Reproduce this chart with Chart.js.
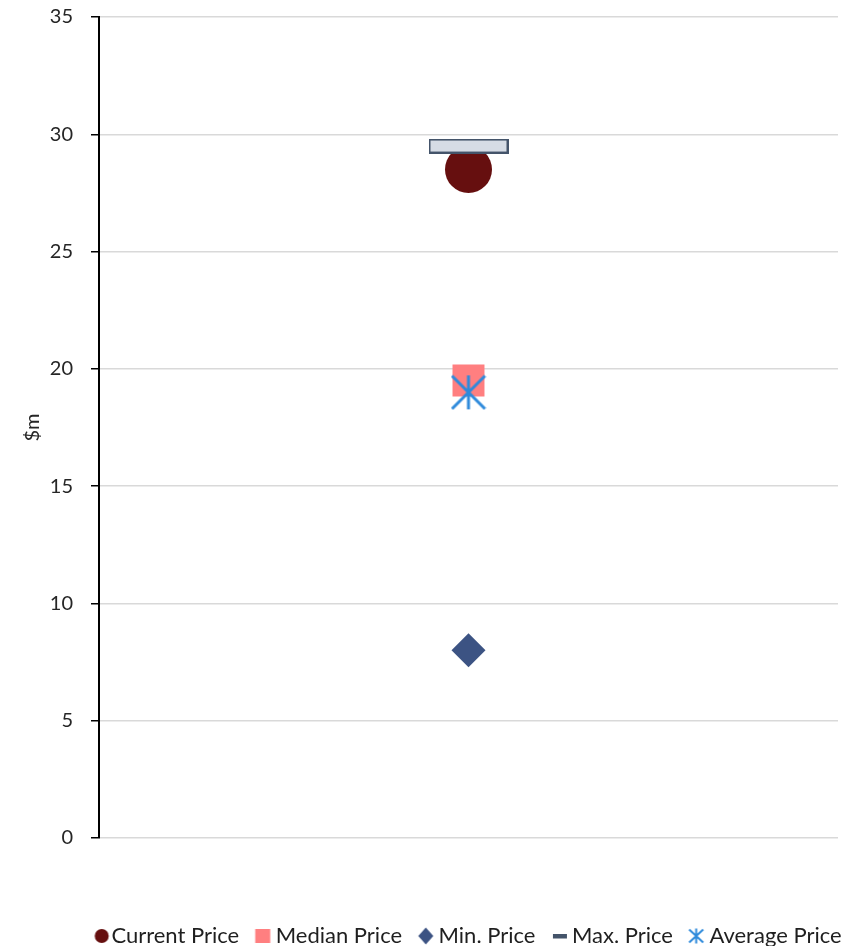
<!DOCTYPE html>
<html><head><meta charset="utf-8">
<script src="https://cdn.jsdelivr.net/npm/chart.js@4/dist/chart.umd.min.js"></script>
<style>html,body{margin:0;padding:0;background:#fff}#wrap{width:862px;height:946px}</style>
</head><body><div id="wrap"><canvas id="c" width="862" height="946"></canvas></div>
<script>
const categories = [''];
const seriesNames = ['Current Price','Median Price','Min. Price','Max. Price','Average Price'];
const currentPrice = [28.5];
const medianPrice = [19.5];
const minPrice = [8];
const maxPrice = [29.5];
const averagePrice = [19];
const yTicks = [0,5,10,15,20,25,30,35];

const C_CUR = '#660F0F', C_MED = '#FF7F80', C_MIN = '#3C5383', C_MAXF = '#D6DCE5', C_MAXB = '#44546A', C_AVG = '#2E8ADB';
const FONT = 'Lato';

function mk(w,h,draw){const c=document.createElement('canvas');c.width=w;c.height=h;const g=c.getContext('2d');draw(g,w,h);return c;}
const maxImg = mk(80,15,g=>{g.fillStyle=C_MAXF;g.fillRect(0,0,80,15);g.strokeStyle=C_MAXB;g.lineWidth=2;g.strokeRect(1,1,78,13);});
const starImg = mk(36,36,g=>{g.strokeStyle=C_AVG;g.lineWidth=3;g.beginPath();
  g.moveTo(18,1);g.lineTo(18,35);g.moveTo(1.5,1.5);g.lineTo(34.5,34.5);g.moveTo(34.5,1.5);g.lineTo(1.5,34.5);g.stroke();});
// legend markers (canvas 24 wide, marker centre at 12 + shift)
const lgCur = mk(24,16,g=>{g.fillStyle=C_CUR;g.beginPath();g.arc(14.3,8,7,0,Math.PI*2);g.fill();});
const lgMed = mk(24,16,g=>{g.fillStyle=C_MED;g.fillRect(11-7.5,1,15,14);});
const lgMin = mk(24,18,g=>{g.fillStyle=C_MIN;const c=11.2;g.beginPath();g.moveTo(c,0.5);g.lineTo(c+7.5,9);g.lineTo(c,17.5);g.lineTo(c-7.5,9);g.closePath();g.fill();});
const lgMax = mk(24,16,g=>{g.fillStyle=C_MAXB;g.fillRect(12-7,6,14,4.5);});
const lgAvg = mk(24,16,g=>{g.strokeStyle=C_AVG;g.lineWidth=2;const c=10.7;g.beginPath();g.moveTo(c,0.5);g.lineTo(c,15.5);g.moveTo(c-7,1.5);g.lineTo(c+7,14.5);g.moveTo(c+7,1.5);g.lineTo(c-7,14.5);g.stroke();});
const legendImgs = [lgCur,lgMed,lgMin,lgMax,lgAvg];

const base = {type:'line', showLine:false};
const datasets = [
  {...base, label:seriesNames[0], data:currentPrice, pointStyle:'circle', pointRadius:23.5, pointBackgroundColor:C_CUR, pointBorderWidth:0, pointBorderColor:C_CUR, backgroundColor:C_CUR, order:5},
  {...base, label:seriesNames[1], data:medianPrice, pointStyle:'rect', pointRadius:22.6, pointBackgroundColor:C_MED, pointBorderWidth:0, pointBorderColor:C_MED, backgroundColor:C_MED, order:4},
  {...base, label:seriesNames[2], data:minPrice, pointStyle:'rectRot', pointRadius:17, pointBackgroundColor:C_MIN, pointBorderWidth:0, pointBorderColor:C_MIN, backgroundColor:C_MIN, order:3},
  {...base, label:seriesNames[3], data:maxPrice, pointStyle:maxImg, pointRadius:20, backgroundColor:C_MAXB, order:2},
  {...base, label:seriesNames[4], data:averagePrice, pointStyle:starImg, pointRadius:20, backgroundColor:C_AVG, order:1},
];

const legendShift = {id:'legendShift', afterLayout(chart){const l=chart.legend; if(l){l.left+=51; l.right+=51;}}};

new Chart(document.getElementById('c'), {
  type:'line',
  data:{labels:categories, datasets},
  plugins:[legendShift],
  options:{
    responsive:false, animation:false, devicePixelRatio:1,
    layout:{autoPadding:false, padding:{top:17,right:24,bottom:-11,left:0}},
    plugins:{
      tooltip:{enabled:false},
      legend:{position:'bottom', align:'center',
        labels:{usePointStyle:true, boxWidth:2, boxHeight:2, padding:23.5, color:'#1F1F1F', font:{family:FONT,size:22},
          generateLabels:(chart)=>chart.data.datasets.map((d,i)=>({text:d.label, pointStyle:legendImgs[i], fillStyle:d.backgroundColor, strokeStyle:d.backgroundColor, lineWidth:0, hidden:false, datasetIndex:i, fontColor:'#1F1F1F'}))
        }
      }
    },
    scales:{
      x:{type:'category', offset:true, display:true, ticks:{display:false}, grid:{display:false}, border:{display:false},
         afterFit:s=>{s.height=63.5;}},
      y:{min:0,max:35,
         afterBuildTicks:s=>{s.ticks=yTicks.map(v=>({value:v}));},
         ticks:{color:'#262626', font:{family:FONT,size:20}, padding:18},
         grid:{color:'#D9D9D9', lineWidth:1.5, tickColor:'#000', tickLength:8, drawTicks:true},
         border:{color:'#000', width:2},
         title:{display:true, text:'$m', color:'#262626', font:{family:FONT,size:20}, padding:{top:21,bottom:0}},
         afterFit:s=>{s.width=99; s.paddingTop=0;}
      }
    }
  }
});
</script></body></html>
